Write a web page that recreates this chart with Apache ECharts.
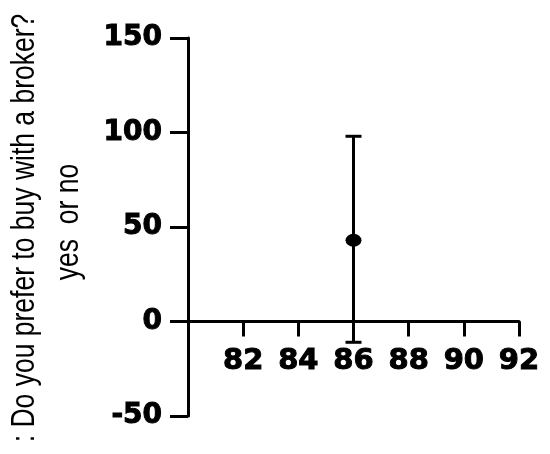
<!DOCTYPE html>
<html>
<head>
<meta charset="utf-8">
<script src="https://cdn.jsdelivr.net/npm/echarts@6/dist/echarts.min.js"></script>
<style>
  html, body { margin: 0; padding: 0; background: #ffffff; }
  #chart { width: 550px; height: 454px; }
</style>
</head>
<body>
<div id="chart"></div>
<script>
// values
const xValues = [86]
const meanValues = [43]
const lowValues = [-11]
const highValues = [98]
const yTitleLines = [': Do you prefer to buy with a broker?', 'yes  or no']

const chart = echarts.init(document.getElementById('chart'))

const labelFont = {
  color: '#000000',
  fontFamily: 'DejaVu Sans',
  fontWeight: 'bold',
  fontSize: 28,
  textBorderColor: '#000000',
  textBorderWidth: 1
}
const lineStyle = { color: '#000000', width: 3 }

// the reference is stretched sideways, so the rotated title is scaled
const titleStyle = text => ({
  text: text,
  fill: '#000000',
  fontFamily: '"Liberation Sans", Arial, sans-serif',
  fontSize: 26.5,
  align: 'center',
  verticalAlign: 'middle'
})

const option = {
  backgroundColor: '#ffffff',
  animation: false,
  grid: { left: 188, right: 31, top: 38, bottom: 38, containLabel: false, outerBoundsMode: 'none' },
  graphic: [
    { type: 'text', x: 24.5, y: 228, rotation: Math.PI / 2, scaleY: 1.25, style: titleStyle(yTitleLines[0]) },
    { type: 'text', x: 68.5, y: 222, rotation: Math.PI / 2, scaleY: 1.25, style: titleStyle(yTitleLines[1]) }
  ],
  xAxis: {
    type: 'value',
    min: 80,
    max: 92,
    interval: 2,
    axisLine: { show: true, onZero: true, lineStyle: lineStyle },
    axisTick: { show: true, length: 15, lineStyle: lineStyle },
    // labels sit at the grid bottom in v6, pull them up under the zero line
    axisLabel: {
      ...labelFont,
      fontSize: 29,
      margin: -69,
      formatter: v => (v === 80 ? '' : String(v))
    },
    splitLine: { show: false }
  },
  yAxis: {
    type: 'value',
    min: -50,
    max: 150,
    interval: 50,
    axisLine: { show: true, onZero: false, lineStyle: lineStyle },
    axisTick: { show: true, length: 18, lineStyle: lineStyle },
    axisLabel: { ...labelFont, margin: 26 },
    splitLine: { show: false }
  },
  series: [
    {
      type: 'custom',
      data: xValues.map((x, i) => [x, lowValues[i], highValues[i]]),
      renderItem: (params, api) => {
        const top = api.coord([api.value(0), api.value(2)])
        const bottom = api.coord([api.value(0), api.value(1)])
        const half = 8
        const style = { stroke: '#000000', lineWidth: 3 }
        return {
          type: 'group',
          children: [
            { type: 'line', shape: { x1: top[0], y1: top[1], x2: bottom[0], y2: bottom[1] }, style },
            { type: 'line', shape: { x1: top[0] - half, y1: top[1], x2: top[0] + half, y2: top[1] }, style },
            { type: 'line', shape: { x1: bottom[0] - half, y1: bottom[1], x2: bottom[0] + half, y2: bottom[1] }, style }
          ]
        }
      },
      z: 2
    },
    {
      type: 'scatter',
      data: xValues.map((x, i) => [x, meanValues[i]]),
      symbol: 'circle',
      symbolSize: [16, 13],
      itemStyle: { color: '#000000', opacity: 1 },
      z: 3
    }
  ]
}

chart.setOption(option)
</script>
</body>
</html>
